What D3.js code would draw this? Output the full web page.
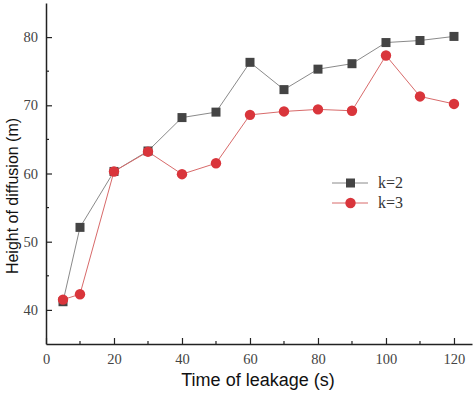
<!DOCTYPE html>
<html>
<head>
<meta charset="utf-8">
<script src="https://cdn.jsdelivr.net/npm/d3@7"></script>
<style>
  body { margin: 0; background: #fff; }
  svg { display: block; }
</style>
</head>
<body>
<svg id="chart" width="474" height="395"></svg>
<script>
const times = [5, 10, 20, 30, 40, 50, 60, 70, 80, 90, 100, 110, 120];
const k2Values = [41.2, 52.1, 60.3, 63.3, 68.2, 69.0, 76.3, 72.3, 75.3, 76.1, 79.2, 79.5, 80.1];
const k3Values = [41.5, 42.3, 60.3, 63.2, 59.9, 61.5, 68.6, 69.1, 69.4, 69.2, 77.3, 71.3, 70.2];
const xTicks = [0, 20, 40, 60, 80, 100, 120];
const yTicks = [40, 50, 60, 70, 80];
const seriesNames = ['k=2', 'k=3'];

const svg = d3.select('#chart');
const margin = { top: 3, right: 2, bottom: 51, left: 46 };
const width = +svg.attr('width') - margin.left - margin.right;
const height = +svg.attr('height') - margin.top - margin.bottom;

const x = d3.scaleLinear().domain([0, 125.3]).range([0, width]);
const y = d3.scaleLinear().domain([35, 85]).range([height, 0]);

const g = svg.append('g')
  .attr('transform', `translate(${margin.left},${margin.top})`);

// minor ticks
const xMinor = d3.range(10, 125, 20);
const yMinor = d3.range(45, 85, 10);
g.selectAll('.xminor').data(xMinor).join('line')
  .attr('x1', d => x(d)).attr('x2', d => x(d))
  .attr('y1', height).attr('y2', height - 3)
  .attr('stroke', '#222').attr('stroke-width', 1.2);
g.selectAll('.yminor').data(yMinor).join('line')
  .attr('x1', 0).attr('x2', 3)
  .attr('y1', d => y(d)).attr('y2', d => y(d))
  .attr('stroke', '#222').attr('stroke-width', 1.2);

const xAxis = g.append('g')
  .attr('transform', `translate(0,${height})`)
  .call(d3.axisBottom(x).tickValues(xTicks).tickSize(-6).tickSizeOuter(0).tickPadding(10));
const yAxis = g.append('g')
  .call(d3.axisLeft(y).tickValues(yTicks).tickSize(-6).tickSizeOuter(0).tickPadding(8));

[xAxis, yAxis].forEach(ax => {
  ax.select('.domain').attr('stroke', '#222').attr('stroke-width', 1.5);
  ax.selectAll('.tick line').attr('stroke', '#222').attr('stroke-width', 1.2);
  ax.selectAll('.tick text')
    .style('font-family', '"Liberation Serif", "DejaVu Serif", serif')
    .style('font-size', '14.5px')
    .attr('fill', '#444');
});

// axis titles
svg.append('text')
  .attr('x', 258)
  .attr('y', 386)
  .attr('text-anchor', 'middle')
  .style('font-family', '"Liberation Sans", Arial, sans-serif')
  .style('font-size', '18px')
  .attr('fill', '#111')
  .text('Time of leakage (s)');

svg.append('text')
  .attr('transform', 'translate(18,196) rotate(-90)')
  .attr('text-anchor', 'middle')
  .style('font-family', '"Liberation Sans", Arial, sans-serif')
  .style('font-size', '16px')
  .attr('fill', '#111')
  .text('Height of diffusion (m)');

const line = d3.line().x(d => x(d[0])).y(d => y(d[1]));

const k2 = times.map((t, i) => [t, k2Values[i]]);
const k3 = times.map((t, i) => [t, k3Values[i]]);

g.append('path').datum(k2)
  .attr('d', line).attr('fill', 'none')
  .attr('stroke', '#8a8a8a').attr('stroke-width', 1);
g.append('path').datum(k3)
  .attr('d', line).attr('fill', 'none')
  .attr('stroke', '#d86a6a').attr('stroke-width', 1);

g.selectAll('.sq').data(k2).join('rect')
  .attr('x', d => x(d[0]) - 4.5).attr('y', d => y(d[1]) - 4.5)
  .attr('width', 9).attr('height', 9)
  .attr('fill', '#444');
g.selectAll('.ci').data(k3).join('circle')
  .attr('cx', d => x(d[0])).attr('cy', d => y(d[1]))
  .attr('r', 5.2)
  .attr('fill', '#d9353b');

// legend
const legend = svg.append('g').attr('transform', 'translate(332,183)');
seriesNames.forEach((name, i) => {
  const row = legend.append('g').attr('transform', `translate(0,${i * 20})`);
  row.append('line').attr('x1', 0).attr('x2', 36).attr('y1', 0).attr('y2', 0)
    .attr('stroke', i === 0 ? '#8a8a8a' : '#d86a6a').attr('stroke-width', 1);
  if (i === 0) {
    row.append('rect').attr('x', 14).attr('y', -4.5).attr('width', 9).attr('height', 9).attr('fill', '#444');
  } else {
    row.append('circle').attr('cx', 18.5).attr('cy', 0).attr('r', 5.2).attr('fill', '#d9353b');
  }
  row.append('text')
    .attr('x', 46).attr('y', 5)
    .style('font-family', '"Liberation Serif", "DejaVu Serif", serif')
    .style('font-size', '16px')
    .attr('fill', '#333')
    .text(name);
});
</script>
</body>
</html>
